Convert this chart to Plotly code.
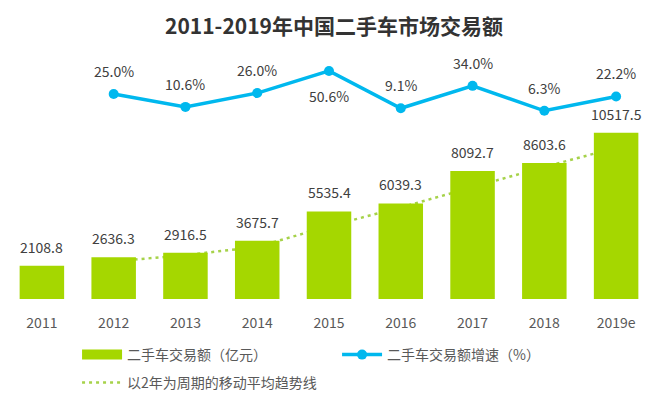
import plotly.graph_objects as go

years = ["2011", "2012", "2013", "2014", "2015", "2016", "2017", "2018", "2019e"]
volume = [2108.8, 2636.3, 2916.5, 3675.7, 5535.4, 6039.3, 8092.7, 8603.6, 10517.5]
growth_years = years[1:]
growth = [25.0, 10.6, 26.0, 50.6, 9.1, 34.0, 6.3, 22.2]
ma_years = years[1:]
moving_avg = [2372.6, 2776.4, 3296.1, 4605.6, 5787.4, 7066.0, 8348.2, 9560.6]

font = "Noto Sans CJK SC"
green = "#A5D700"
blue = "#00B8EE"
dotted = "#A6D24A"
label_font = dict(size=14, color="#404040", family=font)

fig = go.Figure()
fig.add_trace(go.Bar(
    x=years, y=volume, showlegend=False,
    marker=dict(color=green, line=dict(width=0)),
    zorder=1,
))
# legend-only entry so the bar key is a wide block like the original
fig.add_trace(go.Scatter(
    x=[None], y=[None], mode="lines", name="二手车交易额（亿元）",
    line=dict(color=green, width=10), legend="legend",
))
fig.add_trace(go.Scatter(
    x=growth_years, y=growth, yaxis="y2", name="二手车交易额增速（%）",
    mode="lines+markers",
    line=dict(color=blue, width=3.5),
    marker=dict(color=blue, size=10),
    cliponaxis=False, legend="legend",
))
fig.add_trace(go.Scatter(
    x=ma_years, y=moving_avg, name="以2年为周期的移动平均趋势线",
    mode="lines", line=dict(color=dotted, width=2.5, dash="3px,4px"),
    zorder=0, legend="legend2",
))

# value labels, pushed a bit further from the marks than plotly's text does
# (annotations on a category axis take the category index)
for yr, v in zip(years, volume):
    fig.add_annotation(x=years.index(yr), y=v, xref="x", yref="y", text=f"{v:.1f}",
                       showarrow=False, yanchor="bottom", yshift=7, font=label_font)
for yr, g in zip(growth_years, growth):
    below = g == max(growth)
    fig.add_annotation(x=years.index(yr), y=g, xref="x", yref="y2", text=f"{g:.1f}%",
                       showarrow=False, yanchor="middle",
                       yshift=-25 if below else 23, font=label_font)

legend_font = dict(size=14, color="#595959", family=font)
fig.update_layout(
    width=668, height=403,
    margin=dict(l=6, r=16, t=40, b=103),
    paper_bgcolor="white", plot_bgcolor="white",
    font=dict(family=font, size=13, color="#404040"),
    title=dict(text="<b>2011-2019年中国二手车市场交易额</b>", x=0.5, xanchor="center",
               y=0.933, yanchor="middle", font=dict(size=21, color="#333333", family=font)),
    bargap=0.38,
    xaxis=dict(type="category", categoryorder="array", categoryarray=years,
               range=[-0.5, len(years) - 0.5],
               showline=True, linecolor="#BFBFBF", linewidth=1.5, ticks="",
               tickfont=dict(size=14, color="#595959"), ticklabelstandoff=10,
               showgrid=False),
    yaxis=dict(range=[0, 16375], visible=False, showgrid=False),
    yaxis2=dict(range=[-203, 85], overlaying="y", visible=False, showgrid=False),
    legend=dict(orientation="h", x=0.11, xanchor="left", y=-0.2115, yanchor="middle",
                entrywidth=205, font=legend_font, itemwidth=40),
    legend2=dict(orientation="h", x=0.11, xanchor="left", y=-0.319, yanchor="middle",
                 font=legend_font, itemwidth=40),
)
# page body has a default 8px margin; drop it so the figure fills the window
fig.write_html("out.html", config={"displayModeBar": False},
               post_script="document.body.style.margin='0';")
